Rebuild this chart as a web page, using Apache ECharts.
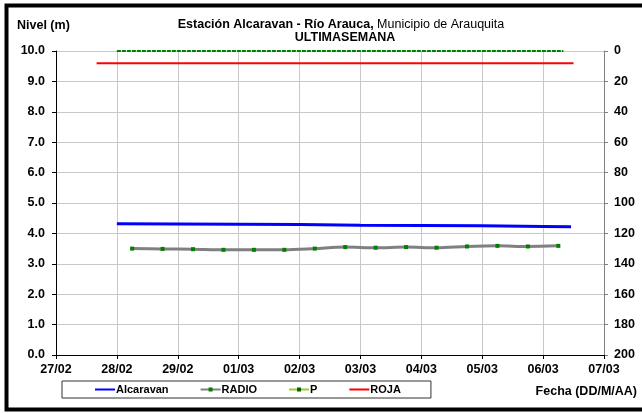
<!DOCTYPE html>
<html>
<head>
<meta charset="utf-8">
<script src="https://cdn.jsdelivr.net/npm/echarts@6/dist/echarts.min.js"></script>
<style>
  html, body { margin: 0; padding: 0; background: #fff; }
  #chart { width: 642px; height: 413px; }
</style>
</head>
<body>
<div id="chart"></div>
<script>
// etiquetas del eje de fechas (un tick por dia)
var dayLabels = ['27/02', '28/02', '29/02', '01/03', '02/03', '03/03', '04/03', '05/03', '06/03', '07/03'];
var levelTicks = [0, 1, 2, 3, 4, 5, 6, 7, 8, 9, 10];
var rainTicks = [0, 20, 40, 60, 80, 100, 120, 140, 160, 180, 200];

// Alcaravan (nivel, m)
var alcaravanTimes = ['2012-02-28 00:00', '2012-02-29 00:00', '2012-03-01 00:00', '2012-03-02 00:00', '2012-03-03 00:00',
  '2012-03-04 00:00', '2012-03-05 00:00', '2012-03-06 00:00', '2012-03-06 11:00'];
var alcaravanValues = [4.32, 4.31, 4.30, 4.29, 4.27, 4.26, 4.25, 4.23, 4.22];

// RADIO (nivel, m) cada 12 horas
var radioTimes = ['2012-02-28 06:00', '2012-02-28 18:00', '2012-02-29 06:00', '2012-02-29 18:00', '2012-03-01 06:00',
  '2012-03-01 18:00', '2012-03-02 06:00', '2012-03-02 18:00', '2012-03-03 06:00', '2012-03-03 18:00',
  '2012-03-04 06:00', '2012-03-04 18:00', '2012-03-05 06:00', '2012-03-05 18:00', '2012-03-06 06:00'];
var radioValues = [3.50, 3.49, 3.48, 3.46, 3.46, 3.46, 3.50, 3.55, 3.53, 3.55, 3.53, 3.57, 3.59, 3.57, 3.59];

// P (precipitacion, eje derecho invertido)
var pTimes = ['2012-02-28 00:00', '2012-02-29 00:00', '2012-03-01 00:00', '2012-03-02 00:00', '2012-03-03 00:00',
  '2012-03-04 00:00', '2012-03-05 00:00', '2012-03-06 00:00', '2012-03-06 08:00'];
var pValues = [0, 0, 0, 0, 0, 0, 0, 0, 0];

// cota ROJA
var rojaTimes = ['2012-02-27 16:00', '2012-03-06 12:00'];
var rojaValues = [9.6, 9.6];

var startMs = Date.UTC(2012, 1, 27);
function toDay(s) {
  var d = new Date(s.replace(' ', 'T') + ':00Z');
  return (d.getTime() - startMs) / 86400000;
}
function pairs(times, values) {
  return times.map(function (t, i) { return [toDay(t), values[i]]; });
}

var FONT = '"Liberation Sans", Arial, sans-serif';
var FS = 12.5;
var chart = echarts.init(document.getElementById('chart'));

var option = {
  backgroundColor: '#fff',
  animation: false,
  textStyle: { fontFamily: FONT },
  grid: { left: 56, right: 38, top: 51, bottom: 58 },
  legend: {
    left: 62,
    top: 381,
    padding: [3, 30, 3, 32],
    borderColor: '#333',
    borderWidth: 1,
    itemWidth: 20,
    itemHeight: 5,
    itemGap: 31,
    textStyle: { fontFamily: FONT, fontSize: 11, fontWeight: 'bold', color: '#000', padding: [0, 0, 0, -4] },
    data: [
      { name: 'Alcaravan', itemStyle: { opacity: 0 } },
      { name: 'RADIO' },
      { name: 'P', itemStyle: { color: '#006400' }, lineStyle: { color: '#99cc33', type: 'solid', width: 2 } },
      { name: 'ROJA', itemStyle: { opacity: 0 } }
    ]
  },
  xAxis: {
    type: 'value',
    min: 0,
    max: dayLabels.length - 1,
    interval: 1,
    axisLine: { lineStyle: { color: '#000', width: 1 } },
    axisTick: { length: 4, lineStyle: { color: '#000' } },
    axisLabel: {
      fontFamily: FONT, fontSize: FS, fontWeight: 'bold', color: '#000', margin: 8,
      formatter: function (v) { return dayLabels[v]; }
    },
    splitLine: { show: true, lineStyle: { color: '#c8c8c8', width: 1 } }
  },
  yAxis: [{
    type: 'value',
    min: levelTicks[0],
    max: levelTicks[levelTicks.length - 1],
    interval: 1,
    axisLine: { show: true, lineStyle: { color: '#000' } },
    axisTick: { show: true, length: 4, lineStyle: { color: '#000' } },
    axisLabel: {
      fontFamily: FONT, fontSize: FS, fontWeight: 'bold', color: '#000', margin: 11,
      formatter: function (v) { return v.toFixed(1); }
    },
    splitLine: { show: true, lineStyle: { color: '#c8c8c8', width: 1 } }
  }, {
    type: 'value',
    inverse: true,
    min: rainTicks[0],
    max: rainTicks[rainTicks.length - 1],
    interval: 20,
    position: 'right',
    axisLine: { show: true, lineStyle: { color: '#808080' } },
    axisTick: { show: true, length: 4, lineStyle: { color: '#808080' } },
    axisLabel: { fontFamily: FONT, fontSize: FS, fontWeight: 'bold', color: '#000', margin: 10 },
    splitLine: { show: false }
  }],
  series: [{
    name: 'Alcaravan',
    type: 'line',
    symbol: 'none',
    data: pairs(alcaravanTimes, alcaravanValues),
    lineStyle: { color: '#0000ff', width: 3 },
    itemStyle: { color: '#0000ff' },
    z: 3
  }, {
    name: 'RADIO',
    type: 'line',
    smooth: 0.3,
    symbol: 'rect',
    symbolSize: 4,
    data: pairs(radioTimes, radioValues),
    lineStyle: { color: '#808080', width: 3 },
    itemStyle: { color: '#008000' },
    z: 3
  }, {
    name: 'P',
    type: 'line',
    yAxisIndex: 1,
    symbol: 'rect',
    symbolSize: 3,
    showSymbol: false,
    data: pairs(pTimes, pValues),
    lineStyle: { color: '#008000', width: 2, type: [4, 1] },
    itemStyle: { color: '#008000' },
    z: 4
  }, {
    name: 'ROJA',
    type: 'line',
    symbol: 'none',
    data: pairs(rojaTimes, rojaValues),
    lineStyle: { color: '#ff0000', width: 2 },
    itemStyle: { color: '#ff0000' },
    z: 3
  }],
  graphic: [{
    type: 'rect',
    shape: { x: 6.5, y: 5.5, width: 700, height: 404 },
    style: { fill: 'none', stroke: '#000', lineWidth: 4 },
    silent: true
  }, {
    type: 'text',
    x: 17, y: 26,
    style: { text: 'Nivel (m)', font: 'bold ' + FS + 'px ' + FONT, fill: '#000', verticalAlign: 'middle' }
  }, {
    type: 'text',
    x: 341, y: 25,
    style: {
      text: '{b|Estación Alcaravan - Río Arauca,}{n| Municipio de Arauquita}',
      align: 'center', verticalAlign: 'middle',
      rich: {
        b: { fontFamily: FONT, fontSize: FS, fontWeight: 'bold', fill: '#000' },
        n: { fontFamily: FONT, fontSize: FS, fill: '#000' }
      }
    }
  }, {
    type: 'text',
    x: 345, y: 38,
    style: { text: 'ULTIMASEMANA', font: 'bold ' + FS + 'px ' + FONT, fill: '#000', align: 'center', verticalAlign: 'middle' }
  }, {
    type: 'text',
    x: 637, y: 392,
    style: { text: 'Fecha (DD/M/AA)', font: 'bold ' + FS + 'px ' + FONT, fill: '#000', align: 'right', verticalAlign: 'middle' }
  }]
};

chart.setOption(option);
</script>
</body>
</html>
